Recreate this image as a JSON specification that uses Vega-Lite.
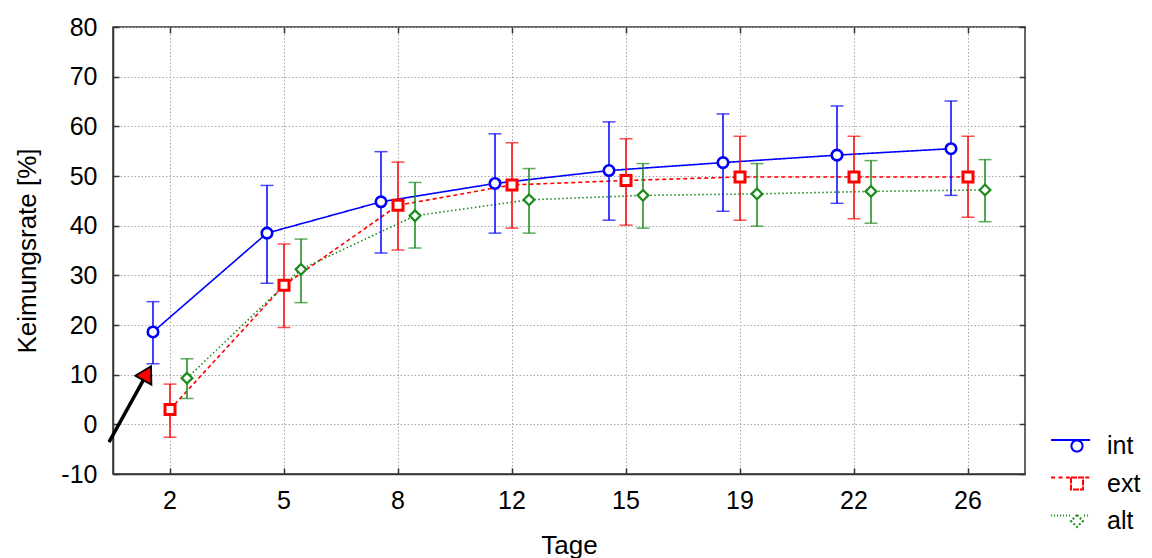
{
  "$schema": "https://vega.github.io/schema/vega-lite/v6.json",
  "autosize": {"type": "none"},
  "padding": {"left": 113, "top": 27, "right": 127, "bottom": 84},
  "width": 912,
  "height": 447,
  "background": "white",
  "config": {
    "font": "Liberation Sans",
    "view": {"stroke": "#333333", "strokeWidth": 1.5},
    "axis": {
      "labelFont": "Liberation Sans",
      "titleFont": "Liberation Sans",
      "labelFontSize": 25,
      "titleFontSize": 26,
      "titleFontWeight": "normal",
      "labelColor": "#000000",
      "titleColor": "#000000",
      "domainColor": "#333333",
      "domainWidth": 1.5,
      "tickColor": "#333333",
      "tickWidth": 1.5,
      "gridColor": "#a8a8a8",
      "gridDash": [1.5, 2],
      "gridWidth": 1
    },
    "legend": {
      "labelFont": "Liberation Sans",
      "labelFontSize": 25,
      "labelColor": "#000000"
    }
  },
  "datasets": {
    "stats": [
      {"Tage": "2", "series": "int", "mean": 18.6, "lo": 12.2, "hi": 24.7},
      {"Tage": "5", "series": "int", "mean": 38.5, "lo": 28.4, "hi": 48.1},
      {"Tage": "8", "series": "int", "mean": 44.8, "lo": 34.5, "hi": 54.9},
      {"Tage": "12", "series": "int", "mean": 48.5, "lo": 38.5, "hi": 58.5},
      {"Tage": "15", "series": "int", "mean": 51.1, "lo": 41.1, "hi": 60.9},
      {"Tage": "19", "series": "int", "mean": 52.7, "lo": 42.9, "hi": 62.5},
      {"Tage": "22", "series": "int", "mean": 54.2, "lo": 44.5, "hi": 64.1},
      {"Tage": "26", "series": "int", "mean": 55.5, "lo": 46.1, "hi": 65.1},
      {"Tage": "2", "series": "ext", "mean": 3.0, "lo": -2.6, "hi": 8.1},
      {"Tage": "5", "series": "ext", "mean": 28.0, "lo": 19.5, "hi": 36.3},
      {"Tage": "8", "series": "ext", "mean": 44.1, "lo": 35.1, "hi": 52.8},
      {"Tage": "12", "series": "ext", "mean": 48.2, "lo": 39.5, "hi": 56.7},
      {"Tage": "15", "series": "ext", "mean": 49.1, "lo": 40.1, "hi": 57.5},
      {"Tage": "19", "series": "ext", "mean": 49.8, "lo": 41.1, "hi": 58.0},
      {"Tage": "22", "series": "ext", "mean": 49.8, "lo": 41.4, "hi": 58.0},
      {"Tage": "26", "series": "ext", "mean": 49.8, "lo": 41.7, "hi": 58.0},
      {"Tage": "2", "series": "alt", "mean": 9.3, "lo": 5.2, "hi": 13.2},
      {"Tage": "5", "series": "alt", "mean": 31.2, "lo": 24.5, "hi": 37.3},
      {"Tage": "8", "series": "alt", "mean": 42.0, "lo": 35.5, "hi": 48.7},
      {"Tage": "12", "series": "alt", "mean": 45.2, "lo": 38.5, "hi": 51.5},
      {"Tage": "15", "series": "alt", "mean": 46.1, "lo": 39.5, "hi": 52.5},
      {"Tage": "19", "series": "alt", "mean": 46.4, "lo": 39.9, "hi": 52.5},
      {"Tage": "22", "series": "alt", "mean": 46.9, "lo": 40.5, "hi": 53.1},
      {"Tage": "26", "series": "alt", "mean": 47.2, "lo": 40.8, "hi": 53.3}
    ],
    "arrow": [
      {"ax": -0.035, "ay": -3.6, "ax2": 0.3, "ay2": 10.3}
    ]
  },
  "layer": [
    {
      "data": {"name": "stats"},
      "encoding": {
        "x": {
          "field": "Tage",
          "type": "ordinal",
          "scale": {"type": "band", "domain": ["2", "5", "8", "12", "15", "19", "22", "26"], "paddingInner": 0, "paddingOuter": 0},
          "axis": {"title": "Tage", "labelAngle": 0, "grid": true, "bandPosition": 0.5, "tickSize": -6, "labelPadding": 20, "titlePadding": 19}
        },
        "xOffset": {
          "field": "series",
          "type": "nominal",
          "scale": {"type": "point", "domain": ["int", "ext", "alt"], "range": [40, 74], "padding": 0}
        },
        "y": {
          "field": "mean",
          "type": "quantitative",
          "scale": {"domain": [-10, 80], "nice": false, "zero": false},
          "axis": {"title": "Keimungsrate [%]", "values": [-10, 0, 10, 20, 30, 40, 50, 60, 70, 80], "labelExpr": "'' + datum.value", "grid": true, "tickSize": -6, "labelPadding": 22, "titlePadding": 20}
        },
        "color": {
          "field": "series",
          "type": "nominal",
          "scale": {"domain": ["int", "ext", "alt"], "range": ["#0000ff", "#ff0000", "#1a8a1a"]},
          "legend": null
        }
      },
      "layer": [
        {
          "transform": [{"filter": "datum.mean > 1000"}],
          "mark": {"type": "point", "filled": false, "strokeWidth": 2, "opacity": 1},
          "encoding": {
            "color": {
              "field": "series",
              "type": "nominal",
              "scale": {"domain": ["int", "ext", "alt"], "range": ["#0000ff", "#ff0000", "#1a8a1a"]},
              "legend": {
                "title": null, "orient": "none", "legendX": 942, "legendY": 403, "labelOffset": 20, "symbolSize": 900, "symbolStrokeWidth": 2, "rowPadding": 8.5, "padding": 0,
                "encode": {"symbols": {"opacity": {"value": 1}, "strokeDash": {"value": [1, 0]}}}
              }
            },
            "shape": {
              "field": "series",
              "type": "nominal",
              "scale": {
                "domain": ["int", "ext", "alt"],
                "range": [
                  "M-1.33,-0.4H1.27M0.77,0A0.37,0.37 0 1 1 0.03,0A0.37,0.37 0 1 1 0.77,0ZM0.77,0A0.37,0.37 0 1 0 0.03,0A0.37,0.37 0 1 0 0.77,0Z",
                  "M-1.33,-0.4H-1.03M-0.83,-0.4H-0.53M-0.33,-0.4H-0.08M0,-0.4H0.8V0.4H0ZM0,-0.4V0.4H0.8V-0.4ZM0.95,-0.4H1.27",
                  "M-1.33,-0.37h0.07M-1.13,-0.37h0.07M-0.93,-0.37h0.07M-0.73,-0.37h0.07M-0.53,-0.37h0.07M-0.33,-0.37h0.07M-0.13,-0.37h0.07M0.87,-0.37h0.07M1.07,-0.37h0.07M0.4,-0.4L0.8,0L0.4,0.4L0,0ZM0.4,-0.4L0,0L0.4,0.4L0.8,0Z"
                ]
              },
              "legend": {
                "title": null, "orient": "none", "legendX": 942, "legendY": 403, "labelOffset": 20, "symbolSize": 900, "symbolStrokeWidth": 2, "rowPadding": 8.5, "padding": 0,
                "encode": {"symbols": {"opacity": {"value": 1}, "strokeDash": {"value": [1, 0]}}}
              }
            }
          }
        },
        {
          "mark": {"type": "line", "strokeWidth": 1.6},
          "encoding": {
            "strokeDash": {
              "field": "series",
              "type": "nominal",
              "scale": {"domain": ["int", "ext", "alt"], "range": [[1, 0], [4, 3], [1.5, 2.5]]},
              "legend": null
            },
            "detail": {"field": "series"}
          }
        },
        {
          "mark": {"type": "rule", "strokeWidth": 1.5},
          "encoding": {
            "y": {"field": "lo", "type": "quantitative"},
            "y2": {"field": "hi"}
          }
        },
        {
          "mark": {"type": "tick", "thickness": 1.5, "size": 13},
          "encoding": {"y": {"field": "lo", "type": "quantitative"}}
        },
        {
          "mark": {"type": "tick", "thickness": 1.5, "size": 13},
          "encoding": {"y": {"field": "hi", "type": "quantitative"}}
        },
        {
          "transform": [{"filter": "datum.series == 'int'"}],
          "mark": {"type": "point", "shape": "circle", "size": 110, "filled": false, "fill": "white", "strokeWidth": 2.6, "opacity": 1}
        },
        {
          "transform": [{"filter": "datum.series == 'ext'"}],
          "mark": {"type": "point", "shape": "square", "size": 100, "filled": false, "fill": "white", "strokeWidth": 3, "opacity": 1}
        },
        {
          "transform": [{"filter": "datum.series == 'alt'"}],
          "mark": {"type": "point", "shape": "diamond", "size": 115, "filled": false, "fill": "white", "strokeWidth": 2.2, "opacity": 1}
        }
      ]
    },
    {
      "data": {"name": "arrow"},
      "layer": [
        {
          "mark": {"type": "rule", "color": "#000000", "strokeWidth": 3.5},
          "encoding": {
            "x": {"field": "ax", "type": "quantitative", "scale": {"domain": [0, 8], "nice": false, "zero": false},
                  "axis": {"orient": "top", "values": [0.5, 1.5, 2.5, 3.5, 4.5, 5.5, 6.5, 7.5], "labels": false, "title": null, "grid": false, "domain": false, "tickSize": -6}},
            "y": {"field": "ay", "type": "quantitative",
                  "axis": {"orient": "right", "values": [-10, 0, 10, 20, 30, 40, 50, 60, 70, 80], "labels": false, "title": null, "grid": false, "domain": false, "tickSize": -6}},
            "x2": {"field": "ax2"},
            "y2": {"field": "ay2"}
          }
        },
        {
          "mark": {"type": "point", "shape": "triangle-up", "size": 340, "angle": 29, "filled": true, "fill": "#ff0000", "stroke": "#000000", "strokeWidth": 1.8, "opacity": 1},
          "encoding": {
            "x": {"field": "ax2", "type": "quantitative", "scale": {"domain": [0, 8], "nice": false, "zero": false},
                  "axis": {"orient": "top", "values": [0.5, 1.5, 2.5, 3.5, 4.5, 5.5, 6.5, 7.5], "labels": false, "title": null, "grid": false, "domain": false, "tickSize": -6}},
            "y": {"field": "ay2", "type": "quantitative",
                  "axis": {"orient": "right", "values": [-10, 0, 10, 20, 30, 40, 50, 60, 70, 80], "labels": false, "title": null, "grid": false, "domain": false, "tickSize": -6}}
          }
        }
      ]
    }
  ],
  "resolve": {"scale": {"x": "independent"}, "axis": {"y": "independent"}}
}
